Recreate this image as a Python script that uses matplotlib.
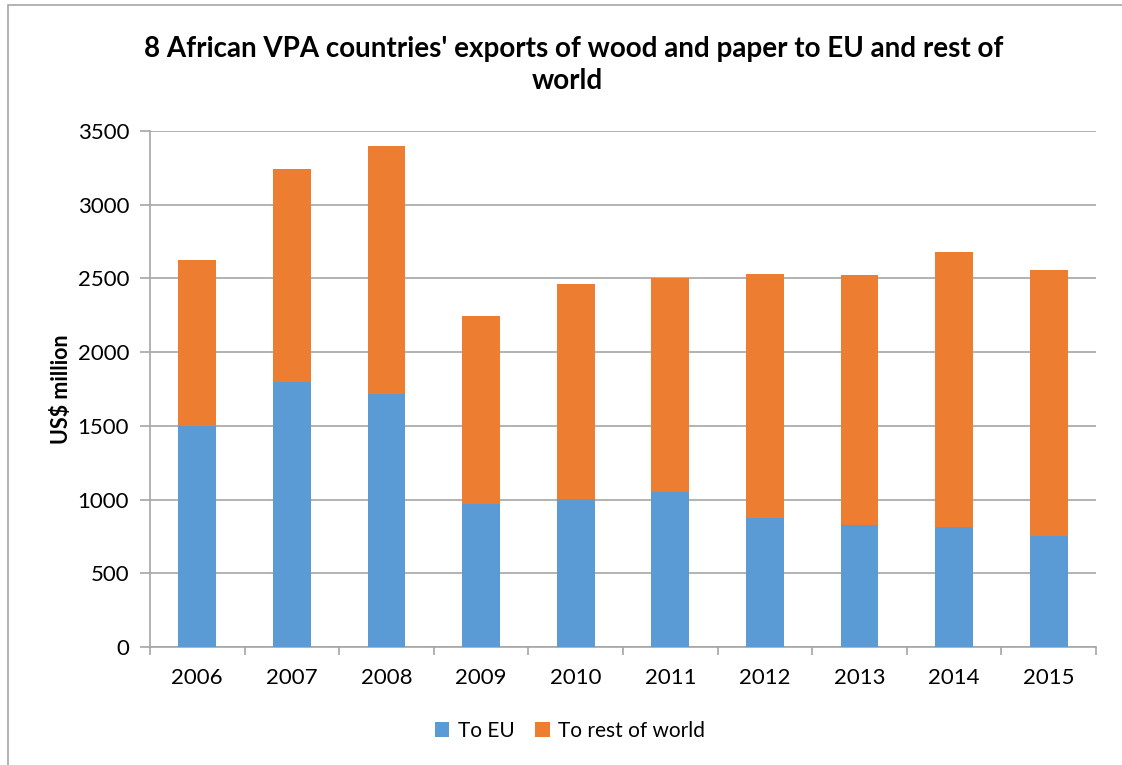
import numpy as np
import matplotlib.pyplot as plt
from matplotlib.patches import Rectangle

# dados
anos = ['2006', '2007', '2008', '2009', '2010', '2011', '2012', '2013', '2014', '2015']
para_ue = [1500, 1800, 1716, 970, 1004, 1051, 873, 825, 812, 751]
total = [2625, 3242, 3398, 2245, 2462, 2503, 2530, 2523, 2679, 2557]
resto_mundo = [t - u for t, u in zip(total, para_ue)]

azul = '#5B9BD5'
laranja = '#ED7D31'
cinza = '#A6A6A6'

plt.rcParams['font.family'] = ['Lato', 'DejaVu Sans']

fig = plt.figure(figsize=(11.22, 7.65), dpi=100)
ax = fig.add_axes([150 / 1122, 118 / 765, 946 / 1122, 516 / 765])

x = np.arange(len(anos))
ax.bar(x, para_ue, width=0.4, color=azul, label='To EU', zorder=3)
ax.bar(x, resto_mundo, width=0.4, bottom=para_ue, color=laranja,
       label='To rest of world', zorder=3)

ax.set_xlim(-0.5, len(anos) - 0.5)
ax.set_ylim(0, 3500)
ax.set_yticks(range(0, 3501, 500))
ax.set_xticks(x)
ax.set_xticklabels(anos)
ax.set_xticks(np.arange(-0.5, len(anos), 1), minor=True)
ax.tick_params(axis='x', which='major', length=0, labelsize=16, pad=15)
ax.tick_params(axis='x', which='minor', length=6, color=cinza, width=1.2)
ax.tick_params(axis='y', length=7, color=cinza, width=1.2, labelsize=16, pad=8)

ax.grid(axis='y', color=cinza, linewidth=1.2, zorder=0)
for lado in ['top', 'right']:
    ax.spines[lado].set_visible(False)
for lado in ['left', 'bottom']:
    ax.spines[lado].set_color(cinza)
    ax.spines[lado].set_linewidth(1.2)

ax.set_ylabel('US$ million', fontsize=15.5, fontweight='bold', labelpad=4)

fig.text(574 / 1122, 1 - 49 / 765,
         "8 African VPA countries' exports of wood and paper to EU and rest of",
         ha='center', va='center', fontsize=20, fontweight='bold')
fig.text(567 / 1122, 1 - 81 / 765, 'world',
         ha='center', va='center', fontsize=20, fontweight='bold')

fig.legend(loc='center', bbox_to_anchor=(570 / 1122, 1 - 731 / 765), ncol=2,
           frameon=False, fontsize=15, handlelength=0.7, handleheight=0.7,
           columnspacing=1.0, handletextpad=0.4)

# moldura do grafico
fig.patches.append(Rectangle((8 / 1122, -0.1), 1.2, 1 + 0.1 - 5 / 765,
                             transform=fig.transFigure, fill=False,
                             edgecolor=cinza, linewidth=1.2))

fig.savefig('out.png', dpi=100)
